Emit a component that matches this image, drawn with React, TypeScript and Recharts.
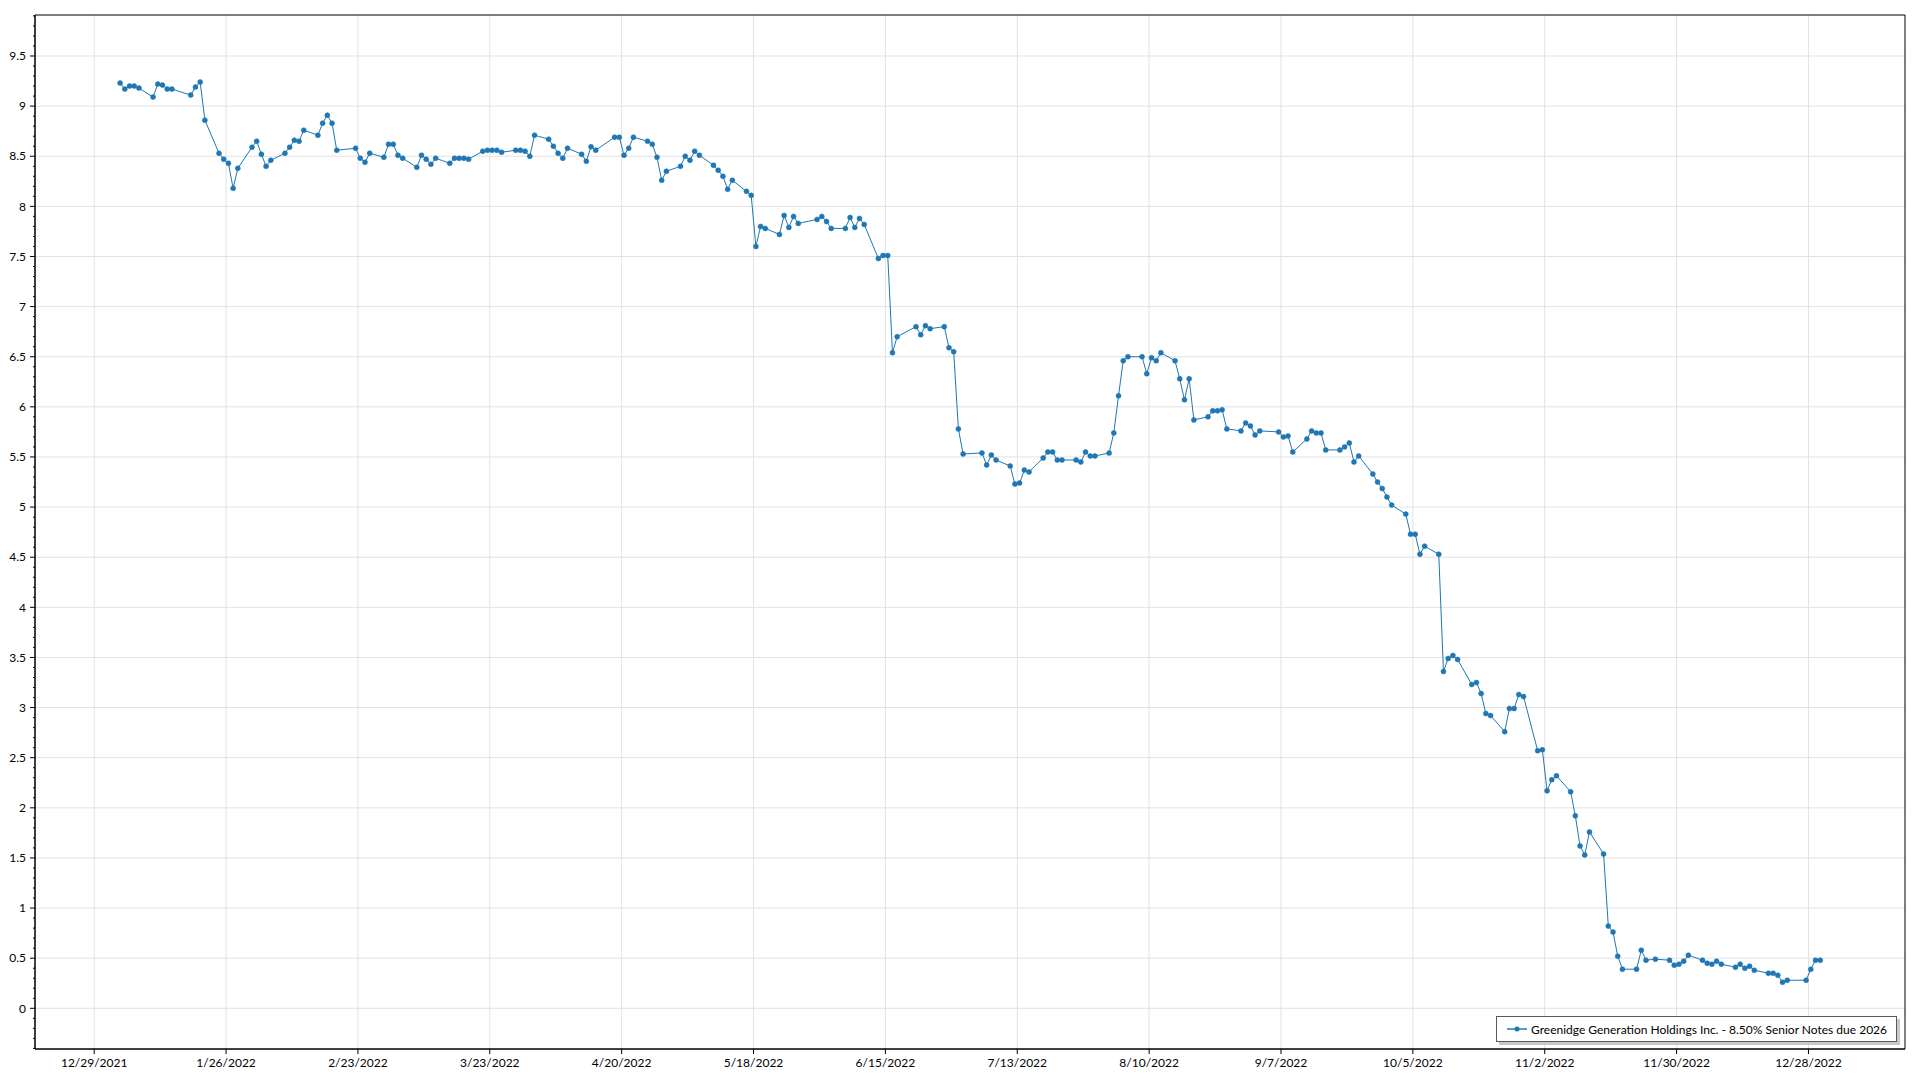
import { CartesianGrid, Legend, Line, LineChart, ReferenceArea, XAxis, YAxis } from "recharts";

const SERIES_NAME = "Greenidge Generation Holdings Inc. - 8.50% Senior Notes due 2026";

// trading dates in 2022 (M/D) and the matching quote
const quoteDates = [
  "1/3", "1/4", "1/5", "1/6", "1/7", "1/10", "1/11", "1/12", "1/13", "1/14",
  "1/18", "1/19", "1/20", "1/21", "1/24", "1/25", "1/26", "1/27", "1/28", "1/31",
  "2/1", "2/2", "2/3", "2/4", "2/7", "2/8", "2/9", "2/10", "2/11", "2/14",
  "2/15", "2/16", "2/17", "2/18", "2/22", "2/23", "2/24", "2/25", "2/28", "3/1",
  "3/2", "3/3", "3/4", "3/7", "3/8", "3/9", "3/10", "3/11", "3/14", "3/15",
  "3/16", "3/17", "3/18", "3/21", "3/22", "3/23", "3/24", "3/25", "3/28", "3/29",
  "3/30", "3/31", "4/1", "4/4", "4/5", "4/6", "4/7", "4/8", "4/11", "4/12",
  "4/13", "4/14", "4/18", "4/19", "4/20", "4/21", "4/22", "4/25", "4/26", "4/27",
  "4/28", "4/29", "5/2", "5/3", "5/4", "5/5", "5/6", "5/9", "5/10", "5/11",
  "5/12", "5/13", "5/16", "5/17", "5/18", "5/19", "5/20", "5/23", "5/24", "5/25",
  "5/26", "5/27", "5/31", "6/1", "6/2", "6/3", "6/6", "6/7", "6/8", "6/9",
  "6/10", "6/13", "6/14", "6/15", "6/16", "6/17", "6/21", "6/22", "6/23", "6/24",
  "6/27", "6/28", "6/29", "6/30", "7/1", "7/5", "7/6", "7/7", "7/8", "7/11",
  "7/12", "7/13", "7/14", "7/15", "7/18", "7/19", "7/20", "7/21", "7/22", "7/25",
  "7/26", "7/27", "7/28", "7/29", "8/1", "8/2", "8/3", "8/4", "8/5", "8/8",
  "8/9", "8/10", "8/11", "8/12", "8/15", "8/16", "8/17", "8/18", "8/19", "8/22",
  "8/23", "8/24", "8/25", "8/26", "8/29", "8/30", "8/31", "9/1", "9/2", "9/6",
  "9/7", "9/8", "9/9", "9/12", "9/13", "9/14", "9/15", "9/16", "9/19", "9/20",
  "9/21", "9/22", "9/23", "9/26", "9/27", "9/28", "9/29", "9/30", "10/3", "10/4",
  "10/5", "10/6", "10/7", "10/10", "10/11", "10/12", "10/13", "10/14", "10/17", "10/18",
  "10/19", "10/20", "10/21", "10/24", "10/25", "10/26", "10/27", "10/28", "10/31", "11/1",
  "11/2", "11/3", "11/4", "11/7", "11/8", "11/9", "11/10", "11/11", "11/14", "11/15",
  "11/16", "11/17", "11/18", "11/21", "11/22", "11/23", "11/25", "11/28", "11/29", "11/30",
  "12/1", "12/2", "12/5", "12/6", "12/7", "12/8", "12/9", "12/12", "12/13", "12/14",
  "12/15", "12/16", "12/19", "12/20", "12/21", "12/22", "12/23", "12/27", "12/28", "12/29",
  "12/30",
];

const quotePrices = [
  9.23, 9.17, 9.2, 9.2, 9.18, 9.09, 9.22, 9.21, 9.17, 9.17,
  9.11, 9.19, 9.24, 8.86, 8.53, 8.47, 8.43, 8.18, 8.38, 8.59,
  8.65, 8.52, 8.4, 8.46, 8.53, 8.59, 8.66, 8.65, 8.76, 8.71,
  8.83, 8.91, 8.83, 8.56, 8.58, 8.48, 8.44, 8.53, 8.49, 8.62,
  8.62, 8.51, 8.48, 8.39, 8.51, 8.47, 8.42, 8.48, 8.43, 8.48,
  8.48, 8.48, 8.47, 8.55, 8.56, 8.56, 8.56, 8.54, 8.56, 8.56,
  8.55, 8.5, 8.71, 8.67, 8.6, 8.53, 8.48, 8.58, 8.52, 8.45,
  8.595, 8.56, 8.69, 8.69, 8.51, 8.58, 8.69, 8.65, 8.62, 8.49,
  8.26, 8.35, 8.4, 8.5, 8.46, 8.55, 8.51, 8.41, 8.36, 8.3,
  8.17, 8.26, 8.15, 8.11, 7.6, 7.8, 7.78, 7.72, 7.91, 7.79,
  7.9, 7.83, 7.87, 7.9, 7.85, 7.78, 7.78, 7.89, 7.79, 7.88,
  7.82, 7.48, 7.51, 7.51, 6.54, 6.7, 6.8, 6.72, 6.81, 6.78,
  6.8, 6.59, 6.55, 5.78, 5.53, 5.54, 5.42, 5.52, 5.47, 5.41,
  5.23, 5.24, 5.37, 5.35, 5.49, 5.55, 5.55, 5.47, 5.47, 5.47,
  5.45, 5.55, 5.51, 5.51, 5.54, 5.74, 6.11, 6.46, 6.5, 6.5,
  6.33, 6.49, 6.46, 6.54, 6.46, 6.28, 6.07, 6.28, 5.87, 5.9,
  5.96, 5.96, 5.97, 5.78, 5.76, 5.84, 5.81, 5.72, 5.76, 5.75,
  5.7, 5.71, 5.55, 5.68, 5.76, 5.74, 5.74, 5.57, 5.57, 5.6,
  5.64, 5.45, 5.51, 5.33, 5.25, 5.185, 5.1, 5.02, 4.93, 4.73,
  4.73, 4.53, 4.61, 4.53, 3.36, 3.49, 3.52, 3.48, 3.23, 3.25,
  3.14, 2.94, 2.92, 2.76, 2.99, 2.99, 3.13, 3.11, 2.57, 2.58,
  2.17, 2.28, 2.32, 2.16, 1.92, 1.62, 1.53, 1.76, 1.54, 0.82,
  0.76, 0.52, 0.39, 0.39, 0.58, 0.48, 0.49, 0.48, 0.43, 0.44,
  0.47, 0.53, 0.48, 0.45, 0.44, 0.47, 0.44, 0.41, 0.44, 0.4,
  0.42, 0.38, 0.35, 0.35, 0.33, 0.26, 0.28, 0.28, 0.39, 0.48,
  0.48,
];

const xTickLabels = [
  "12/29/2021", "1/26/2022", "2/23/2022", "3/23/2022", "4/20/2022", "5/18/2022", "6/15/2022",
  "7/13/2022", "8/10/2022", "9/7/2022", "10/5/2022", "11/2/2022", "11/30/2022", "12/28/2022",
];

// y ticks in tenths; every fifth one is labelled
const yTenths = Array.from({ length: 104 }, (_, i) => i - 4);

const FONT = '"Segoe UI", Lato, "Noto Sans", sans-serif';
const BLUE = "#1f77b4";
const ORIGIN = Date.UTC(2021, 11, 29);

function dayOf(mdy: string) {
  const [m, d, y] = mdy.split("/").map(Number);
  return (Date.UTC(y, m - 1, d) - ORIGIN) / 86400000;
}

// quotes are stamped at midday
const rows = quoteDates.map((d, i) => ({ t: dayOf(d + "/2022") + 0.5, price: quotePrices[i] }));
const xTicks = xTickLabels.map(dayOf);
const yTicks = yTenths.map((n) => n / 10);
const yMajor = yTenths.filter((n) => n % 5 === 0).map((n) => n / 10);

const X_DOMAIN: [number, number] = [-12.57, 384.5];
const Y_DOMAIN: [number, number] = [-0.406, 9.909];

function YTick(props: any) {
  const { x, y, payload } = props;
  const n = Math.round(payload.value * 10);
  const major = n % 5 === 0;
  return (
    <g>
      <line x1={x - (major ? 5 : 2)} x2={x} y1={y} y2={y} stroke="#000" />
      {major ? (
        <text x={x - 9} y={y} dy="0.35em" textAnchor="end" fill="#000" fontSize={12} fontFamily={FONT}>
          {String(n / 10)}
        </text>
      ) : null}
    </g>
  );
}

function LegendBox() {
  return (
    <div
      style={{
        boxSizing: "border-box",
        width: 401,
        height: 26,
        border: "1px solid #5a5a5a",
        background: "#fff",
        boxShadow: "3px 3px 0 #c8c8c8",
        display: "flex",
        alignItems: "center",
        fontFamily: FONT,
        fontSize: 12,
        color: "#000",
        whiteSpace: "nowrap",
      }}
    >
      <svg width={34} height={24} style={{ flex: "none" }}>
        <line x1={10} x2={30} y1={12} y2={12} stroke={BLUE} strokeWidth={1.5} />
        <circle cx={20} cy={12} r={2.5} fill={BLUE} />
      </svg>
      <span>{SERIES_NAME}</span>
    </div>
  );
}

export default function App() {
  return (
    <div style={{ position: "absolute", left: 0, top: 0, width: 1920, height: 1080, background: "#fff" }}>
      <LineChart
        width={1920}
        height={1080}
        data={rows}
        margin={{ top: 15, right: 15, bottom: 0, left: 0 }}
        style={{ fontFamily: FONT }}
      >
        <CartesianGrid stroke="#e2e2e2" horizontalValues={yMajor} verticalValues={xTicks} />
        <XAxis
          dataKey="t"
          type="number"
          domain={X_DOMAIN}
          allowDataOverflow
          ticks={xTicks}
          interval={0}
          tickFormatter={(v: number) => xTickLabels[xTicks.indexOf(v)] ?? ""}
          height={31}
          tickSize={5}
          tickMargin={4}
          axisLine={{ stroke: "#000" }}
          tickLine={{ stroke: "#000" }}
          tick={{ fill: "#000", fontSize: 12, fontFamily: FONT }}
        />
        <YAxis
          type="number"
          domain={Y_DOMAIN}
          allowDataOverflow
          ticks={yTicks}
          interval={0}
          width={35}
          tickSize={0}
          tickMargin={0}
          tickLine={false}
          axisLine={{ stroke: "#000" }}
          tick={<YTick />}
        />
        <ReferenceArea
          x1={X_DOMAIN[0]}
          x2={X_DOMAIN[1]}
          y1={Y_DOMAIN[0]}
          y2={Y_DOMAIN[1]}
          fill="none"
          stroke="#000"
          strokeOpacity={1}
        />
        <Line
          type="linear"
          dataKey="price"
          name={SERIES_NAME}
          stroke={BLUE}
          strokeWidth={1}
          dot={{ r: 2.5, fill: BLUE, stroke: BLUE, strokeWidth: 0.5 }}
          activeDot={false}
          isAnimationActive={false}
        />
        <Legend
          verticalAlign="middle"
          align="center"
          layout="horizontal"
          wrapperStyle={{ left: 1496, top: 1016, width: 401, height: 26 }}
          content={() => <LegendBox />}
        />
      </LineChart>
    </div>
  );
}
